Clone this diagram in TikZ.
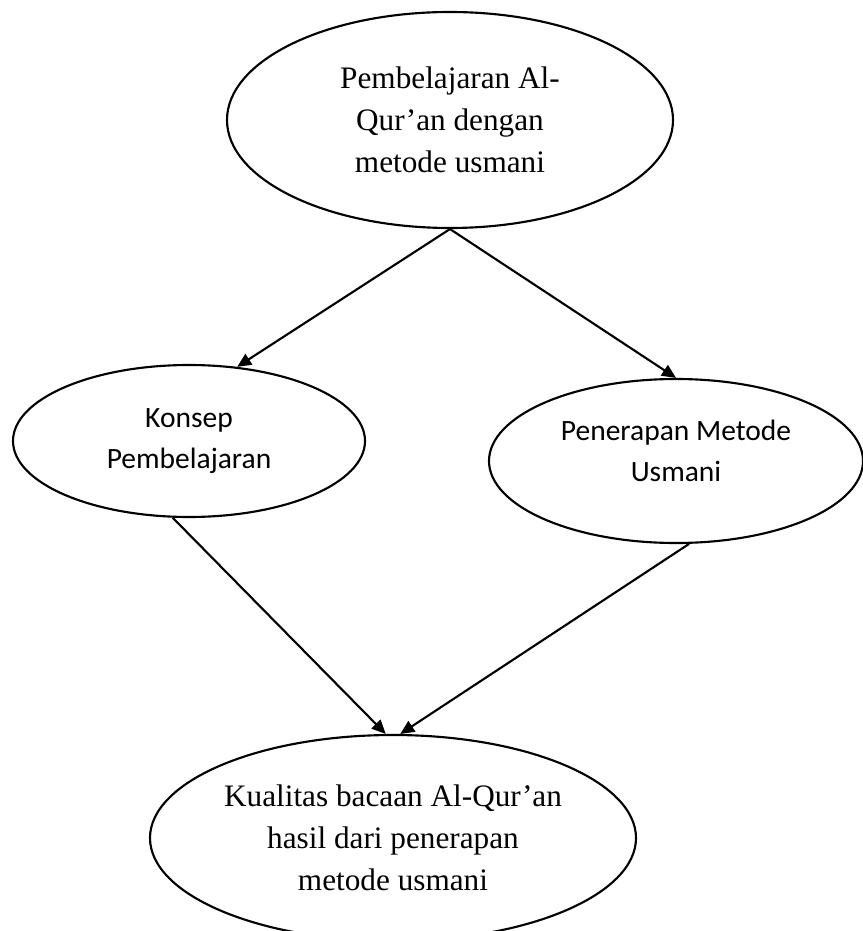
\documentclass[tikz,border=0pt]{standalone}
\usepackage{fontspec}
\setmainfont{Liberation Serif}
\newfontfamily\calibrifont{Carlito}
\usetikzlibrary{arrows.meta,shapes.geometric}
\tikzset{
	oval/.style={draw=black,ellipse,line width=0.85pt,inner sep=0pt,align=center},
	serifoval/.style={oval,font=\fontsize{12.5}{16.9}\selectfont},
	sansoval/.style={oval,font=\calibrifont\fontsize{11.8}{16.4}\selectfont},
	flowarrow/.style={-{Triangle[length=5.6pt,width=5pt]},line width=0.85pt}
}

\begin{document}
\begin{tikzpicture}[x=0.4pt,y=-0.4pt]
	\useasboundingbox (0,0) rectangle (862,931);
	% ovals
	\node[serifoval,minimum width=178.4pt,minimum height=86.4pt] (pembelajaran) at (450,120)
		{Pembelajaran Al-\\Qur’an dengan\\metode usmani};
	\node[sansoval,minimum width=140.8pt,minimum height=60.8pt] (konsep) at (189,441)
		{Konsep\\Pembelajaran};
	\node[sansoval,minimum width=149.6pt,minimum height=65.6pt,text depth=8pt] (penerapan) at (676,461)
		{Penerapan Metode\\Usmani};
	\node[serifoval,minimum width=194.4pt,minimum height=82.4pt] (kualitas) at (393,838)
		{Kualitas bacaan Al-Qur’an\\hasil dari penerapan\\metode usmani};
	% arrows
	\draw[flowarrow] (pembelajaran.south) -- (konsep.57);
	\draw[flowarrow] (pembelajaran.south) -- (penerapan.north);
	\draw[flowarrow] (konsep.258) -- (kualitas.94);
	\draw[flowarrow] (penerapan.279) -- (kualitas.86);
\end{tikzpicture}
\end{document}
